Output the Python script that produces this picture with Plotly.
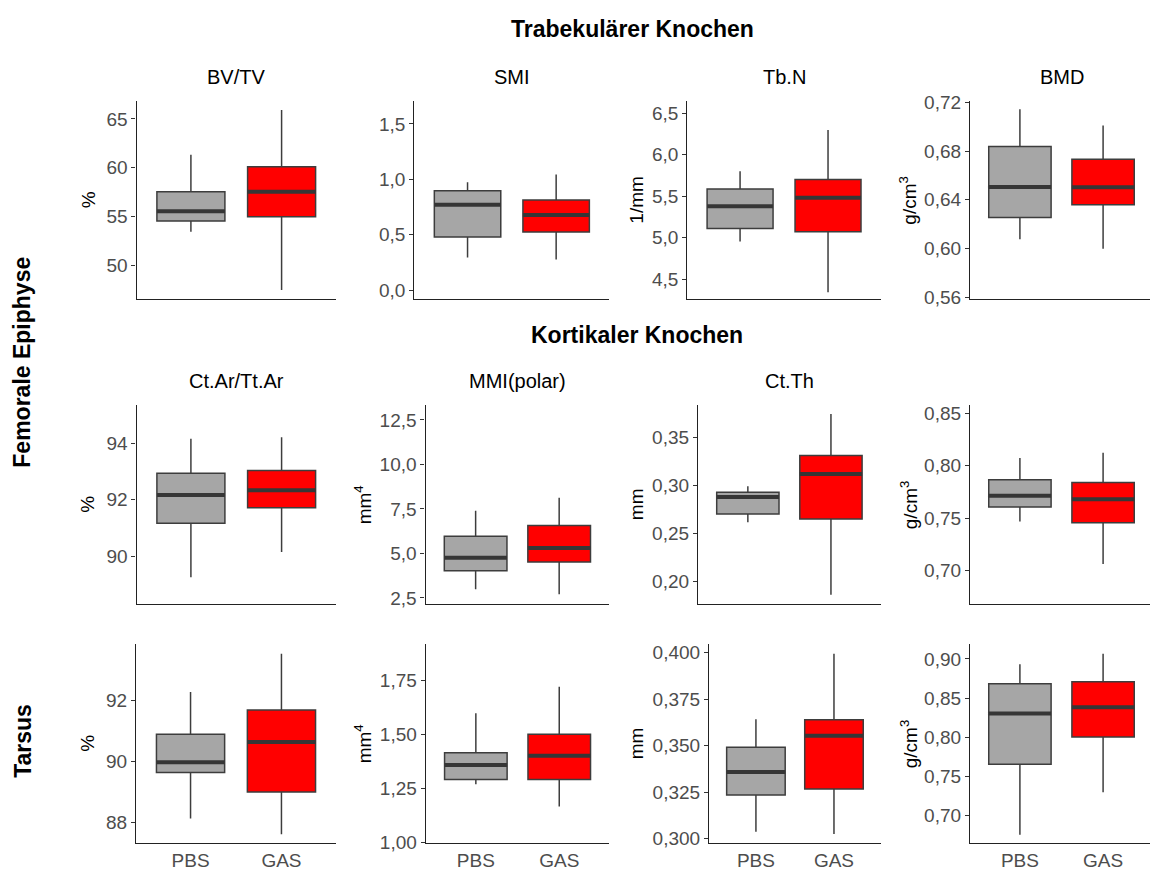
import plotly.graph_objects as go

# ---- data: five-number summaries per panel (lower whisker, Q1, median, Q3, upper whisker)
groups = ["PBS", "GAS"]
panel_titles = ["BV/TV", "SMI", "Tb.N", "BMD",
                "Ct.Ar/Tt.Ar", "MMI(polar)", "Ct.Th", "",
                "", "", "", ""]
units = ["%", "", "1/mm", "g/cm<sup>3</sup>",
         "%", "mm<sup>4</sup>", "mm", "g/cm<sup>3</sup>",
         "%", "mm<sup>4</sup>", "mm", "g/cm<sup>3</sup>"]

pbs_lower = [53.46, 0.294, 4.953, 0.6077, 89.25, 2.99, 0.2616, 0.7468, 88.12, 1.270, 0.3037, 0.676]
pbs_q1 = [54.56, 0.480, 5.110, 0.6256, 91.17, 4.03, 0.2700, 0.7608, 89.63, 1.292, 0.3235, 0.7656]
pbs_median = [55.56, 0.770, 5.377, 0.6505, 92.17, 4.75, 0.2878, 0.7714, 89.97, 1.360, 0.3359, 0.8305]
pbs_q3 = [57.56, 0.897, 5.586, 0.6838, 92.94, 5.97, 0.2929, 0.7866, 90.89, 1.416, 0.3492, 0.8683]
pbs_upper = [61.33, 0.974, 5.800, 0.7143, 94.16, 7.39, 0.2990, 0.8075, 92.27, 1.598, 0.3642, 0.8933]

gas_lower = [47.50, 0.277, 4.340, 0.5999, 90.15, 2.70, 0.1860, 0.7062, 87.61, 1.168, 0.3025, 0.7300]
gas_q1 = [55.00, 0.524, 5.070, 0.6360, 91.72, 4.52, 0.2650, 0.7456, 88.99, 1.292, 0.3267, 0.8004]
gas_median = [57.56, 0.677, 5.480, 0.6503, 92.34, 5.31, 0.3119, 0.7680, 90.63, 1.402, 0.3554, 0.8383]
gas_q3 = [60.10, 0.814, 5.700, 0.6733, 93.04, 6.57, 0.3310, 0.7842, 91.68, 1.501, 0.3640, 0.8708]
gas_upper = [65.90, 1.044, 6.296, 0.7010, 94.22, 8.13, 0.3742, 0.8124, 93.53, 1.721, 0.3995, 0.9066]

# ---- y-axis scales per panel
y_ranges = [[46.56, 66.83], [-0.083, 1.707], [4.256, 6.646], [0.5584, 0.7211],
            [88.30, 95.35], [2.15, 13.32], [0.1762, 0.3834], [0.668, 0.8578],
            [87.31, 93.84], [0.998, 1.917], [0.2975, 0.4046], [0.665, 0.9187]]
y_tick0 = [50, 0, 4.5, 0.56, 90, 2.5, 0.20, 0.70, 88, 1.00, 0.300, 0.70]
y_dtick = [5, 0.5, 0.5, 0.04, 2, 2.5, 0.05, 0.05, 2, 0.25, 0.025, 0.05]
y_format = ["d", ".1f", ".1f", ".2f", "d", ".1f", ".2f", ".2f", "d", ".2f", ".3f", ".2f"]

# ---- page geometry (pixels)
W, H = 1150, 879
row_px = [(94, 296.7), (405, 608.3), (649.3, 852.7)]
col_px = [
    [(136.5, 336), (414.4, 609.3), (687.3, 880.8), (970, 1153)],
    [(136.5, 336), (425.5, 609.3), (698.0, 880.8), (970, 1153)],
    [(136.0, 336), (425.8, 609.3), (709.1, 880.8), (970, 1153)],
]
unit_x_px = [88, 362.6, 636.5, 908.5]

FONT = "Liberation Sans, Arial, sans-serif"
FILL = {"PBS": "#A6A6A6", "GAS": "#FF0000"}
EDGE = "#3D3D3D"
BOX_W = 0.75


def px(x):
    return x / W


def py(y):
    return 1 - y / H


fig = go.Figure()
annotations = []

for i in range(12):
    r, c = divmod(i, 4)
    k = i + 1
    xa = "x" if k == 1 else f"x{k}"
    ya = "y" if k == 1 else f"y{k}"
    left, right = col_px[r][c]
    top, bottom = row_px[r]
    ppu = (right - left) / 2.2
    right_clip = min(right, W)
    x_hi = 0.4 + (right_clip - left) / ppu

    stats = {
        "PBS": (pbs_lower[i], pbs_q1[i], pbs_median[i], pbs_q3[i], pbs_upper[i]),
        "GAS": (gas_lower[i], gas_q1[i], gas_median[i], gas_q3[i], gas_upper[i]),
    }
    for gi, g in enumerate(groups):
        lo, q1, med, q3, hi = stats[g]
        xpos = gi + 1
        fig.add_trace(go.Box(
            x=[xpos], q1=[q1], median=[med], q3=[q3],
            lowerfence=[lo], upperfence=[hi],
            width=BOX_W, whiskerwidth=0, boxpoints=False,
            fillcolor=FILL[g], line=dict(color=EDGE, width=1.5),
            xaxis=xa, yaxis=ya, showlegend=False, hoverinfo="skip",
        ))
        # thick median bar
        fig.add_trace(go.Scatter(
            x=[xpos - BOX_W / 2, xpos + BOX_W / 2], y=[med, med],
            mode="lines", line=dict(color="#363636", width=4),
            xaxis=xa, yaxis=ya, showlegend=False, hoverinfo="skip",
        ))

    xkey = "xaxis" if k == 1 else f"xaxis{k}"
    ykey = "yaxis" if k == 1 else f"yaxis{k}"
    xaxis_cfg = dict(
        domain=[px(left), px(right_clip)], range=[0.4, x_hi],
        anchor=ya, showline=True, linecolor="#222222", linewidth=1.3,
        showgrid=False, zeroline=False, ticks="",
        fixedrange=True,
    )
    if r == 2:
        xaxis_cfg.update(
            tickmode="array", tickvals=[1, 2], ticktext=groups,
            tickfont=dict(family=FONT, size=19, color="#4D4D4D"),
        )
    else:
        xaxis_cfg.update(showticklabels=False)
    fig.layout[xkey] = xaxis_cfg
    fig.layout[ykey] = dict(
        domain=[py(bottom), py(top)], range=y_ranges[i],
        anchor=xa, showline=True, linecolor="#222222", linewidth=1.3,
        showgrid=False, zeroline=False,
        ticks="outside", ticklen=4, tickwidth=1.2, tickcolor="#333333",
        tickmode="linear", tick0=y_tick0[i], dtick=y_dtick[i],
        tickformat=y_format[i],
        tickfont=dict(family=FONT, size=19, color="#4D4D4D"),
        fixedrange=True,
    )

    if panel_titles[i]:
        annotations.append(dict(
            text=panel_titles[i], x=px((left + right) / 2),
            y=py(top - 24 if r == 0 else top - 25),
            xref="paper", yref="paper", xanchor="center", yanchor="middle",
            showarrow=False, font=dict(family=FONT, size=20, color="#000000"),
        ))
    if units[i]:
        annotations.append(dict(
            text=units[i], x=px(unit_x_px[c]), y=py((top + bottom) / 2),
            xref="paper", yref="paper", xanchor="center", yanchor="middle",
            textangle=-90, showarrow=False,
            font=dict(family=FONT, size=19, color="#000000"),
        ))

# section headers and row labels
headers = [("Trabekulärer Knochen", 632, 20), ("Kortikaler Knochen", 637, 333)]
for txt, hx, hy in headers:
    annotations.append(dict(
        text=f"<b>{txt}</b>", x=px(hx), y=py(hy), xref="paper", yref="paper",
        xanchor="center", yanchor="middle", showarrow=False,
        font=dict(family=FONT, size=23, color="#000000"),
    ))

row_labels = [("Femorale Epiphyse", 22.5, 361), ("Tarsus", 23, 748)]
for txt, lx, ly in row_labels:
    annotations.append(dict(
        text=f"<b>{txt}</b>", x=px(lx), y=py(ly), xref="paper", yref="paper",
        xanchor="center", yanchor="middle", textangle=-90, showarrow=False,
        font=dict(family=FONT, size=23, color="#000000"),
    ))

fig.update_layout(
    width=W, height=H, margin=dict(l=0, r=0, t=0, b=0),
    paper_bgcolor="#FFFFFF", plot_bgcolor="#FFFFFF",
    separators=", ", boxmode="overlay",
    annotations=annotations, showlegend=False,
)

fig.write_html("out.html", config={"displayModeBar": False})
